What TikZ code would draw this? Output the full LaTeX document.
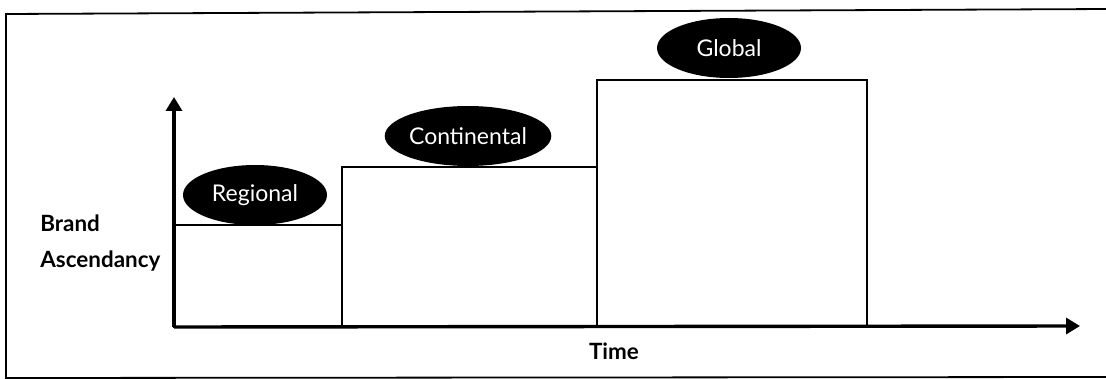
\documentclass[tikz,border=0pt]{standalone}
\usepackage{fontspec}
\setmainfont{Lato}
\usetikzlibrary{arrows.meta,shapes.geometric,positioning}

\begin{document}
\begin{tikzpicture}[
    x=0.5pt, y=-0.5pt,
    bar/.style={draw, line width=0.9pt},
    axis/.style={line width=1.7pt, -{Triangle[length=7pt,width=8pt]}},
    stage/.style={ellipse, fill=black, text=white, minimum width=72pt, minimum height=30pt, inner sep=0pt, font=\fontsize{11.5}{13}\selectfont},
    lbl/.style={font=\fontsize{11.2}{18}\selectfont\bfseries, inner sep=0pt}
]
\useasboundingbox (0,0) rectangle (1106,379);
% frame
\draw[line width=0.9pt] (1110,9) -- (6,14) -- (6,378) -- (1110,377);

% bars
\draw[bar] (174,327) rectangle (342,225);
\draw[bar] (342,327) rectangle (597,167);
\draw[bar] (597,327) rectangle (867,80);

% axes
\coordinate (o) at (174,327);
\coordinate (ytip) at (174,97);
\coordinate (xtip) at (1080,326);
\draw[axis] (o) -- (ytip);
\draw[axis] (o) -- (xtip);

% stage labels
\node[stage] (reg) at (255,195) {Regional};
\node[stage] (cont) at (468,136) {Continental};
\node[stage] (glob) at (729,48) {Global};

\node[lbl, anchor=base west] (brand) at (40,231) {Brand};
\node[lbl, anchor=base west] (asc) at (40,267) {Ascendancy};
\node[lbl, anchor=base] (time) at (614,359) {Time};
\end{tikzpicture}
\end{document}
